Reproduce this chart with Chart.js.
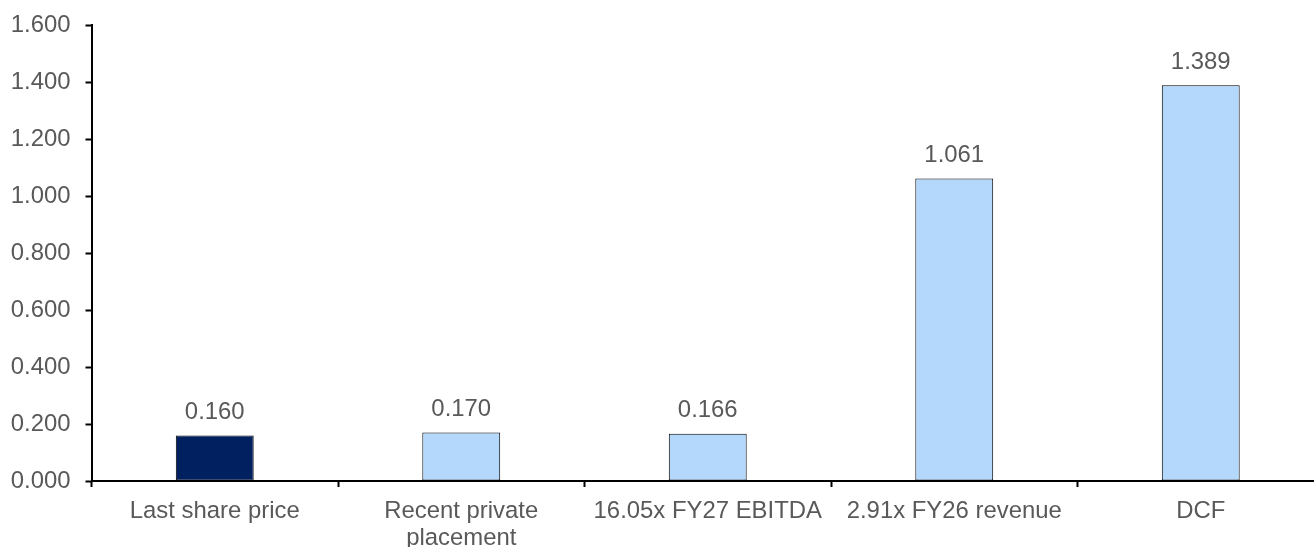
<!DOCTYPE html>
<html>
<head>
<meta charset="utf-8">
<title>Valuation summary</title>
<style>
  html, body { margin: 0; padding: 0; background: #ffffff; overflow: hidden; }
  #wrap { width: 1340px; height: 547px; position: relative; }
</style>
<script src="https://cdn.jsdelivr.net/npm/chart.js@4/dist/chart.umd.min.js"></script>
</head>
<body>
<div id="wrap"><canvas id="chart" width="1340" height="547"></canvas></div>
<script>
// Valuation approaches and the per-share value each one gives
const categories = [
  'Last share price',
  ['Recent private', 'placement'],
  '16.05x FY27 EBITDA',
  '2.91x FY26 revenue',
  'DCF'
];
const values = [0.160, 0.170, 0.166, 1.061, 1.389];
const barColors = ['#002060', '#B4D8FB', '#B4D8FB', '#B4D8FB', '#B4D8FB'];

// Value axis
const yMin = 0;
const yMax = 1.6;
const yStep = 0.2;

const FONT = "'Liberation Sans', Arial, Helvetica, sans-serif";
const FONT_SIZE = 23.9;
const TEXT_GREY = '#595959';

// Writes the value above each bar
const valueLabels = {
  id: 'valueLabels',
  afterDatasetsDraw(chart) {
    const ctx = chart.ctx;
    const meta = chart.getDatasetMeta(0);
    ctx.save();
    ctx.font = FONT_SIZE + 'px ' + FONT;
    ctx.fillStyle = TEXT_GREY;
    ctx.textAlign = 'center';
    ctx.textBaseline = 'alphabetic';
    meta.data.forEach((bar, i) => {
      ctx.fillText(values[i].toFixed(3), bar.x, bar.y - 16.5);
    });
    ctx.restore();
  }
};

new Chart(document.getElementById('chart'), {
  type: 'bar',
  data: {
    labels: categories,
    datasets: [{
      data: values,
      backgroundColor: barColors,
      borderColor: '#000000',
      borderWidth: 1,
      borderSkipped: false,
      barPercentage: 1,
      categoryPercentage: 0.316
    }]
  },
  options: {
    responsive: false,
    animation: false,
    events: [],
    layout: { padding: { top: 25, right: 16, bottom: 0, left: 0 } },
    plugins: {
      legend: { display: false },
      tooltip: { enabled: false }
    },
    scales: {
      y: {
        min: yMin,
        max: yMax,
        afterFit(scale) {
          scale.width = 91.5;
          scale.paddingTop = 0;
          scale.paddingBottom = 0;
        },
        border: { display: true, color: '#000000', width: 2 },
        grid: {
          drawOnChartArea: false,
          drawTicks: true,
          tickLength: 6,
          tickWidth: 2,
          tickColor: '#000000'
        },
        ticks: {
          stepSize: yStep,
          padding: 15,
          color: TEXT_GREY,
          font: { family: FONT, size: FONT_SIZE },
          callback: (v) => Number(v).toFixed(3)
        }
      },
      x: {
        afterFit(scale) { scale.height = 66; },
        border: { display: true, color: '#000000', width: 2 },
        grid: {
          offset: true,
          drawOnChartArea: false,
          drawTicks: true,
          tickLength: 6,
          tickWidth: 2,
          tickColor: '#000000'
        },
        ticks: {
          padding: 10.5,
          maxRotation: 0,
          autoSkip: false,
          color: TEXT_GREY,
          font: { family: FONT, size: FONT_SIZE, lineHeight: 1.14 }
        }
      }
    }
  },
  plugins: [valueLabels]
});
</script>
</body>
</html>
